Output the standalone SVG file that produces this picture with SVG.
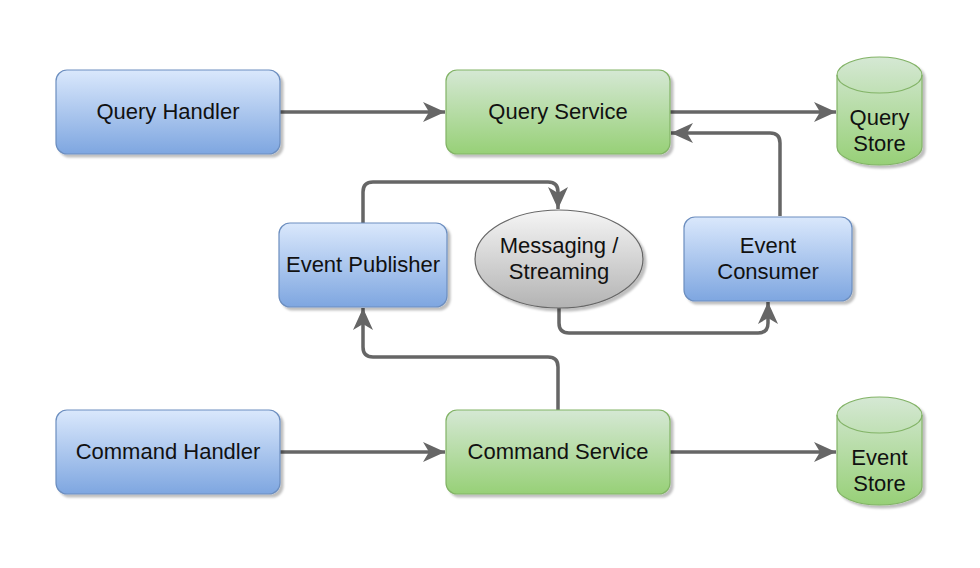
<svg xmlns="http://www.w3.org/2000/svg" width="980" height="568" viewBox="0 0 980 568">
<defs>
<linearGradient id="gBlue" x1="0" y1="0" x2="0" y2="1"><stop offset="0" stop-color="#dae8fc"/><stop offset="1" stop-color="#7ea6e0"/></linearGradient>
<linearGradient id="gGreen" x1="0" y1="0" x2="0" y2="1"><stop offset="0" stop-color="#d5e8d4"/><stop offset="1" stop-color="#97d077"/></linearGradient>
<linearGradient id="gGray" x1="0" y1="0" x2="0" y2="1"><stop offset="0" stop-color="#f5f5f5"/><stop offset="1" stop-color="#b3b3b3"/></linearGradient>
<filter id="sh" x="-10%" y="-10%" width="130%" height="130%"><feDropShadow dx="3" dy="3" stdDeviation="1.2" flood-color="#000" flood-opacity="0.25"/></filter>
<marker id="arr" markerUnits="userSpaceOnUse" markerWidth="24" markerHeight="22" refX="22" refY="10" orient="auto">
<path d="M0,0 L22,10 L0,20 L6,10 Z" fill="#666"/>
</marker>
</defs>
<style>
.blue{fill:url(#gBlue);stroke:#6c8ebf;stroke-width:1.2;filter:url(#sh)}
.green{fill:url(#gGreen);stroke:#82b366;stroke-width:1.2;filter:url(#sh)}
.gray{fill:url(#gGray);stroke:#666;stroke-width:1.2;filter:url(#sh)}
.cyl{fill:none;stroke:#82b366;stroke-width:1.2}
.t{font-family:"Liberation Sans",Arial,sans-serif;font-size:22px;fill:#111;text-anchor:middle}
.c{fill:none;stroke:#666;stroke-width:3.5;marker-end:url(#arr)}
</style>
<rect width="980" height="568" fill="#fff"/>
<g id="connectors">
<path class="c" d="M280,112 H445"/>
<path class="c" d="M670,112 H836"/>
<path class="c" d="M780,216 V143 Q780,133 770,133 H671"/>
<path class="c" d="M363,223 V192 Q363,182 373,182 H548 Q558,182 558,192 V209"/>
<path class="c" d="M559,308 V323 Q559,333 569,333 H758 Q768,333 768,323 V302"/>
<path class="c" d="M558,410 V367 Q558,357 548,357 H373 Q363,357 363,347 V308"/>
<path class="c" d="M280,452 H445"/>
<path class="c" d="M670,452 H836"/>
</g>
<g id="query-handler">
<rect class="blue" x="56" y="70" width="224" height="84" rx="11"/>
<text class="t" x="168" y="119">Query Handler</text>
</g>
<g id="query-service">
<rect class="green" x="446" y="70" width="224" height="84" rx="11"/>
<text class="t" x="558" y="119">Query Service</text>
</g>
<g id="query-store">
<path class="green" d="M837,75 A42.5,18 0 0 1 922,75 V147 A42.5,18 0 0 1 837,147 Z"/>
<path class="cyl" d="M837,75 A42.5,18 0 0 0 922,75"/>
<text class="t" x="879.5" y="125">Query</text>
<text class="t" x="879.5" y="151">Store</text>
</g>
<g id="event-publisher">
<rect class="blue" x="279" y="223" width="168" height="84" rx="11"/>
<text class="t" x="363" y="272">Event Publisher</text>
</g>
<g id="messaging">
<ellipse class="gray" cx="559" cy="259" rx="84" ry="49"/>
<text class="t" x="559" y="253">Messaging /</text>
<text class="t" x="559" y="279">Streaming</text>
</g>
<g id="event-consumer">
<rect class="blue" x="684" y="217" width="168" height="84" rx="11"/>
<text class="t" x="768" y="253">Event</text>
<text class="t" x="768" y="279">Consumer</text>
</g>
<g id="command-handler">
<rect class="blue" x="56" y="410" width="224" height="84" rx="11"/>
<text class="t" x="168" y="459">Command Handler</text>
</g>
<g id="command-service">
<rect class="green" x="446" y="410" width="224" height="84" rx="11"/>
<text class="t" x="558" y="459">Command Service</text>
</g>
<g id="event-store">
<path class="green" d="M837,415 A42.5,18 0 0 1 922,415 V487 A42.5,18 0 0 1 837,487 Z"/>
<path class="cyl" d="M837,415 A42.5,18 0 0 0 922,415"/>
<text class="t" x="879.5" y="465">Event</text>
<text class="t" x="879.5" y="491">Store</text>
</g>
</svg>
